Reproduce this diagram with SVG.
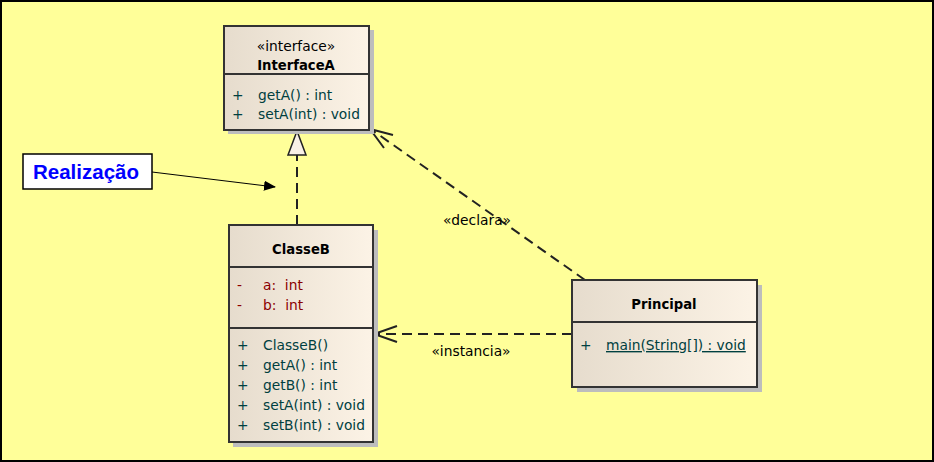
<svg xmlns="http://www.w3.org/2000/svg" width="934" height="462" viewBox="0 0 934 462">
<style>
.box{fill:url(#g);stroke:#333;stroke-width:2}
.sh{fill:#bdbdbd}
.dv{stroke:#333;stroke-width:2}
text{font-family:"DejaVu Sans","Liberation Sans",sans-serif;font-size:13.8px}
.t{font-weight:bold;font-size:13.2px;text-anchor:middle;fill:#000}
.st{text-anchor:middle;fill:#000}
.m{fill:#004040}
.a{fill:#8b0000}
.lbl{fill:#000;text-anchor:middle}
.c{fill:none;stroke:#222;stroke-width:2;stroke-dasharray:10,6}
.ah{fill:none;stroke:#222;stroke-width:2}
</style>
<defs>
<linearGradient id="g" x1="0" y1="0" x2="1" y2="0">
<stop offset="0" stop-color="#e6dccd"/>
<stop offset="1" stop-color="#fcf3e6"/>
</linearGradient>
<marker id="fa" markerWidth="12" markerHeight="10" refX="11" refY="5" orient="auto" markerUnits="userSpaceOnUse">
<path d="M0,0 L12,5 L0,10 z" fill="#000"/>
</marker>
</defs>
<rect x="1" y="1" width="932" height="460" fill="#ffff99" stroke="#000" stroke-width="2"/>

<g id="connectors">
<line class="c" x1="297" y1="225" x2="297" y2="155"/>
<path d="M297,131 L288,155 L306,155 z" fill="#f8f0e6" stroke="#222" stroke-width="1.5"/>
<line class="c" x1="585" y1="280" x2="372" y2="130"/>
<path class="ah" d="M393,135 L370,129 L384,148"/>
<text class="lbl" x="477" y="225">«declara»</text>
<line class="c" x1="572" y1="334" x2="375" y2="334"/>
<path class="ah" d="M397,326 L374,334 L397,342"/>
<text class="lbl" x="471" y="356">«instancia»</text>
<line x1="152" y1="172" x2="275" y2="187" stroke="#000" stroke-width="1" marker-end="url(#fa)"/>
</g>

<g id="InterfaceA">
<rect class="sh" x="228" y="30" width="146" height="104"/>
<rect class="box" x="224" y="26" width="145" height="104"/>
<line class="dv" x1="224" y1="74" x2="369" y2="74"/>
<text class="st" x="296" y="51">«interface»</text>
<text class="t" x="296" y="70">InterfaceA</text>
<text class="m" x="232" y="100">+</text>
<text class="m" x="258" y="100">getA() : int</text>
<text class="m" x="232" y="119">+</text>
<text class="m" x="258" y="119">setA(int) : void</text>
</g>

<g id="ClasseB">
<rect class="sh" x="233" y="230" width="145" height="217"/>
<rect class="box" x="229" y="225" width="144" height="217"/>
<line class="dv" x1="229" y1="267" x2="373" y2="267"/>
<line class="dv" x1="229" y1="328" x2="373" y2="328"/>
<text class="t" x="301" y="254">ClasseB</text>
<text class="a" x="237" y="290">-</text>
<text class="a" x="263" y="290" xml:space="preserve">a:  int</text>
<text class="a" x="237" y="310">-</text>
<text class="a" x="263" y="310" xml:space="preserve">b:  int</text>
<text class="m" x="237" y="350">+</text>
<text class="m" x="263" y="350">ClasseB()</text>
<text class="m" x="237" y="370">+</text>
<text class="m" x="263" y="370">getA() : int</text>
<text class="m" x="237" y="390">+</text>
<text class="m" x="263" y="390">getB() : int</text>
<text class="m" x="237" y="410">+</text>
<text class="m" x="263" y="410">setA(int) : void</text>
<text class="m" x="237" y="430">+</text>
<text class="m" x="263" y="430">setB(int) : void</text>
</g>

<g id="Principal">
<rect class="sh" x="577" y="285" width="185" height="107"/>
<rect class="box" x="572" y="280" width="185" height="107"/>
<line class="dv" x1="572" y1="322" x2="757" y2="322"/>
<text class="t" x="664" y="309">Principal</text>
<text class="m" x="580" y="350">+</text>
<text class="m" x="606" y="350" text-decoration="underline">main(String[]) : void</text>
</g>

<g id="Realizacao">
<rect x="23" y="154" width="129" height="35" fill="#fff" stroke="#000" stroke-width="1.5"/>
<text x="86" y="179" text-anchor="middle" style="font-family:'Liberation Sans',Arial,sans-serif;font-size:20.5px;font-weight:bold" fill="#0000ff">Realização</text>
</g>
</svg>
